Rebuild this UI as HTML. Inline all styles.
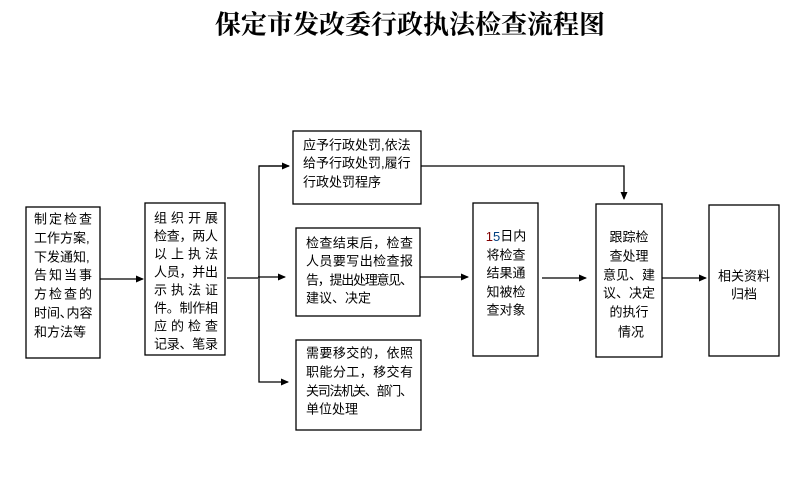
<!DOCTYPE html>
<html><head><meta charset="utf-8"><style>
body{margin:0;background:#fff;}
svg text{font-family:"Liberation Sans","Noto Sans CJK SC",sans-serif;font-size:13px;fill:#000;dominant-baseline:central;}
</style></head><body>
<svg width="806" height="488" viewBox="0 0 806 488" xmlns="http://www.w3.org/2000/svg">
<defs><marker id="a" markerWidth="8" markerHeight="8" refX="7" refY="4" orient="auto" markerUnits="userSpaceOnUse"><path d="M0,0.5 L8,4 L0,7.5z" fill="#000"/></marker></defs>
<text x="410" y="25" text-anchor="middle" style="font-family:'Liberation Serif','Noto Serif CJK SC',serif;font-size:26px;font-weight:bold">保定市发改委行政执法检查流程图</text>
<g fill="none" stroke="#000" stroke-width="1.3">
<rect x="26" y="207" width="74" height="151"/>
<rect x="145" y="203" width="80" height="152"/>
<rect x="293" y="131" width="128" height="73"/>
<rect x="296" y="228" width="124" height="88"/>
<rect x="296" y="340" width="125" height="90"/>
<rect x="473" y="203" width="65" height="153"/>
<rect x="596" y="204" width="66" height="153"/>
<rect x="709" y="205" width="70" height="151"/>
<line x1="100" y1="279" x2="143" y2="279" marker-end="url(#a)"/>
<line x1="227" y1="278" x2="258" y2="278"/>
<polyline points="289,166 259,166 259,382 288,382" marker-end="url(#a)"/>
<line x1="259" y1="166" x2="289" y2="166" marker-end="url(#a)"/>
<line x1="258" y1="277" x2="285" y2="277" marker-end="url(#a)"/>
<polyline points="421,166 624,166 624,199" marker-end="url(#a)"/>
<line x1="420" y1="277" x2="468" y2="277" marker-end="url(#a)"/>
<line x1="542" y1="278" x2="586" y2="278" marker-end="url(#a)"/>
<line x1="662" y1="278" x2="706" y2="278" marker-end="url(#a)"/>
</g>
<g>
<text x="34" y="219" textLength="58" lengthAdjust="spacing">制定检查</text>
<text x="34" y="238">工作方案,</text>
<text x="34" y="257">下发通知,</text>
<text x="34" y="275" textLength="58" lengthAdjust="spacing">告知当事</text>
<text x="34" y="294" textLength="58" lengthAdjust="spacing">方检查的</text>
<text x="34" y="313">时间､内容</text>
<text x="34" y="332">和方法等</text>
<text x="154" y="218" textLength="64" lengthAdjust="spacing">组织开展</text>
<text x="154" y="236" textLength="64" lengthAdjust="spacing">检查，两人</text>
<text x="154" y="254" textLength="64" lengthAdjust="spacing">以上执法</text>
<text x="154" y="272" textLength="64" lengthAdjust="spacing">人员，并出</text>
<text x="154" y="290" textLength="64" lengthAdjust="spacing">示执法证</text>
<text x="154" y="308" textLength="64" lengthAdjust="spacing">件。制作相</text>
<text x="154" y="326" textLength="64" lengthAdjust="spacing">应的检查</text>
<text x="154" y="344" textLength="64" lengthAdjust="spacing">记录、笔录</text>
<text x="303" y="145">应予行政处罚,依法</text>
<text x="303" y="163">给予行政处罚,履行</text>
<text x="303" y="182">行政处罚程序</text>
<text x="306" y="243" textLength="107" lengthAdjust="spacing">检查结束后，检查</text>
<text x="306" y="261" textLength="107" lengthAdjust="spacing">人员要写出检查报</text>
<text x="306" y="280" textLength="107" lengthAdjust="spacing">告，提出处理意见、</text>
<text x="306" y="298">建议、决定</text>
<text x="306" y="353" textLength="107" lengthAdjust="spacing">需要移交的，依照</text>
<text x="306" y="372" textLength="107" lengthAdjust="spacing">职能分工，移交有</text>
<text x="306" y="391" textLength="107" lengthAdjust="spacing">关司法机关、部门、</text>
<text x="306" y="409">单位处理</text>
<g text-anchor="middle">
<text x="506" y="236"><tspan fill="#800000">1</tspan><tspan fill="#004080">5</tspan>日内</text>
<text x="506" y="255">将检查</text>
<text x="506" y="273">结果通</text>
<text x="506" y="292">知被检</text>
<text x="506" y="310">查对象</text>
<text x="629" y="237">跟踪检</text>
<text x="629" y="256">查处理</text>
<text x="629" y="275">意见、建</text>
<text x="629" y="293">议、决定</text>
<text x="629" y="312">的执行</text>
<text x="631" y="332">情况</text>
<text x="744" y="276">相关资料</text>
<text x="744" y="294">归档</text>
</g>
</g>
</svg>
</body></html>
